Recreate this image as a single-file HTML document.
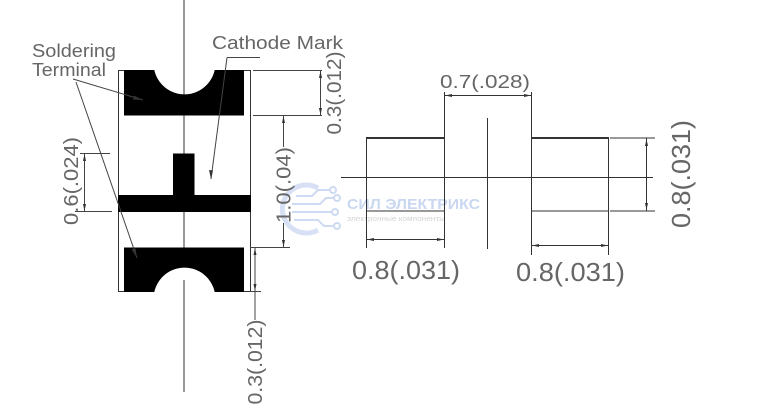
<!DOCTYPE html>
<html><head><meta charset="utf-8"><style>
html,body{margin:0;padding:0;background:#fff;}
svg{display:block;}
text{font-family:"Liberation Sans","DejaVu Sans",sans-serif;}
</style></head><body>
<svg width="762" height="417" viewBox="0 0 762 417" xmlns="http://www.w3.org/2000/svg">
<rect width="762" height="417" fill="#fff"/>

<!-- watermark -->
<g opacity="0.9">
  <path d="M318,188 A24,24 0 1 0 318,230" fill="none" stroke="#d3ddf3" stroke-width="5"/>
  <g stroke="#c9d6f1" stroke-width="2" fill="none">
    <path d="M296,196 L312,196 L318,190 L330,190"/>
    <path d="M292,204 L320,204 L326,198 L334,198"/>
    <path d="M292,212 L332,212"/>
    <path d="M294,220 L318,220 L324,226 L334,226"/>
  </g>
  <g fill="#fff" stroke="#c9d6f1" stroke-width="2">
    <circle cx="333" cy="190" r="3"/><circle cx="337" cy="198" r="3"/>
    <circle cx="335" cy="212" r="3"/><circle cx="337" cy="226" r="3"/>
  </g>
  <text x="347" y="209" font-size="15" font-weight="bold" fill="#c5d3ef" textLength="133" lengthAdjust="spacingAndGlyphs">СИЛ ЭЛЕКТРИКС</text>
  <text x="347" y="221" font-size="7" fill="#cfcfcf" textLength="98" lengthAdjust="spacingAndGlyphs">электронные компоненты</text>
</g>

<!-- ===== LEFT FIGURE ===== -->
<g stroke="#333" stroke-width="1" fill="none">
  <line x1="184" y1="0" x2="184" y2="95"/>
  <line x1="184" y1="115" x2="184" y2="154"/>
  <line x1="184" y1="212" x2="184" y2="248"/>
  <line x1="184" y1="280" x2="184" y2="392"/>
  <line x1="118.5" y1="70" x2="118.5" y2="292"/>
  <line x1="250.5" y1="70" x2="250.5" y2="292"/>
  <line x1="118" y1="70.5" x2="125" y2="70.5"/>
  <line x1="244" y1="70.5" x2="251" y2="70.5"/>
  <line x1="118" y1="291.5" x2="125" y2="291.5"/>
  <line x1="244" y1="291.5" x2="251" y2="291.5"/>
</g>
<g fill="#000">
  <path d="M124,70 L154.3,70 A30.9,30.9 0 0 0 214.7,70 L244,70 L244,115.5 L124,115.5 Z"/>
  <path d="M124,247.5 L244,247.5 L244,292 L214.7,292 A30.9,30.9 0 0 0 154.3,292 L124,292 Z"/>
  <rect x="173" y="153.5" width="21.5" height="42"/>
  <rect x="118" y="195" width="133" height="17"/>
</g>

<!-- leaders -->
<g stroke="#444" stroke-width="1" fill="none">
  <line x1="73" y1="79" x2="143" y2="100"/>
  <line x1="76" y1="82" x2="137" y2="258"/>
  <line x1="227" y1="57.5" x2="260" y2="57.5"/>
  <line x1="227" y1="57.5" x2="211" y2="179"/>
</g>
<g fill="#333">
  <polygon points="143,100 134,95.5 133,99.5"/>
  <polygon points="137,258 131.5,249.5 135.5,248.5"/>
  <polygon points="211,179 209,170 213,170.5"/>
</g>

<g fill="#666">
<text x="32" y="57" font-size="18" textLength="84" lengthAdjust="spacingAndGlyphs">Soldering</text>
<text x="32" y="76" font-size="18" textLength="74" lengthAdjust="spacingAndGlyphs">Terminal</text>
<text x="212" y="49" font-size="18" textLength="131" lengthAdjust="spacingAndGlyphs">Cathode Mark</text>
</g>

<!-- dims left figure -->
<g stroke="#444" stroke-width="1" fill="none">
  <line x1="253" y1="70.5" x2="322" y2="70.5"/>
  <line x1="253" y1="115.5" x2="322" y2="115.5"/>
  <line x1="320.5" y1="70" x2="320.5" y2="115"/>
  <line x1="283.5" y1="115" x2="283.5" y2="147"/>
  <line x1="283.5" y1="223" x2="283.5" y2="247"/>
  <line x1="250" y1="247.5" x2="290" y2="247.5"/>
  <line x1="255" y1="247" x2="255" y2="320"/>
  <line x1="250" y1="291.5" x2="261" y2="291.5"/>
  <line x1="84.5" y1="153" x2="84.5" y2="212"/>
  <line x1="80" y1="153.5" x2="110" y2="153.5"/>
  <line x1="75" y1="211.5" x2="112" y2="211.5"/>
</g>
<g fill="#333">
  <polygon points="320.5,71 319,78 322,78"/>
  <polygon points="320.5,115 319,108 322,108"/>
  <polygon points="283.5,116 282,123 285,123"/>
  <polygon points="283.5,247 282,240 285,240"/>
  <polygon points="255,248 253.5,255 256.5,255"/>
  <polygon points="255,291 253.5,284 256.5,284"/>
  <polygon points="84.5,154 83,161 86,161"/>
  <polygon points="84.5,211 83,204 86,204"/>
</g>
<g fill="#666" font-size="20">
  <text transform="translate(341,93) rotate(-90)" text-anchor="middle" textLength="83" lengthAdjust="spacingAndGlyphs">0.3(.012)</text>
  <text transform="translate(290.5,185) rotate(-90)" text-anchor="middle" textLength="76" lengthAdjust="spacingAndGlyphs">1.0(.04)</text>
  <text transform="translate(262,362) rotate(-90)" text-anchor="middle" textLength="85" lengthAdjust="spacingAndGlyphs">0.3(.012)</text>
  <text transform="translate(78,181) rotate(-90)" text-anchor="middle" textLength="88" lengthAdjust="spacingAndGlyphs">0.6(.024)</text>
</g>

<!-- ===== RIGHT FIGURE ===== -->
<g stroke="#333" stroke-width="1" fill="none">
  <line x1="341" y1="177.5" x2="653" y2="177.5"/>
  <line x1="487.5" y1="118" x2="487.5" y2="249"/>
  <rect x="366.5" y="138" width="78" height="73"/>
  <rect x="531.5" y="138" width="77" height="73"/>
  <line x1="444.5" y1="92" x2="444.5" y2="248"/>
  <line x1="366.5" y1="211" x2="366.5" y2="248"/>
  <line x1="531.5" y1="92" x2="531.5" y2="255"/>
  <line x1="608.5" y1="211" x2="608.5" y2="255"/>
  <line x1="444" y1="95.5" x2="531" y2="95.5"/>
  <line x1="367" y1="239.5" x2="444" y2="239.5"/>
  <line x1="532" y1="245.5" x2="608" y2="245.5"/>
  <line x1="610" y1="138" x2="655" y2="138"/>
  <line x1="610" y1="211" x2="655" y2="211"/>
  <line x1="646.5" y1="138" x2="646.5" y2="211"/>
</g>
<g stroke="#333" stroke-width="2">
  <line x1="366" y1="138" x2="445" y2="138"/>
  <line x1="531" y1="138" x2="609" y2="138"/>
</g>
<g fill="#333">
  <polygon points="445,95.5 452,94 452,97"/>
  <polygon points="531,95.5 524,94 524,97"/>
  <polygon points="367,239.5 374,238 374,241"/>
  <polygon points="444,239.5 437,238 437,241"/>
  <polygon points="532,245.5 539,244 539,247"/>
  <polygon points="608,245.5 601,244 601,247"/>
  <polygon points="646.5,139 645,146 648,146"/>
  <polygon points="646.5,210 645,203 648,203"/>
</g>
<g fill="#666">
  <text x="440" y="88" font-size="18" textLength="90" lengthAdjust="spacingAndGlyphs">0.7(.028)</text>
  <text x="352" y="279" font-size="26" textLength="108" lengthAdjust="spacingAndGlyphs">0.8(.031)</text>
  <text x="516" y="281" font-size="26" textLength="109" lengthAdjust="spacingAndGlyphs">0.8(.031)</text>
  <text transform="translate(690,174) rotate(-90)" text-anchor="middle" font-size="26" textLength="108" lengthAdjust="spacingAndGlyphs">0.8(.031)</text>
</g>
</svg>
</body></html>
